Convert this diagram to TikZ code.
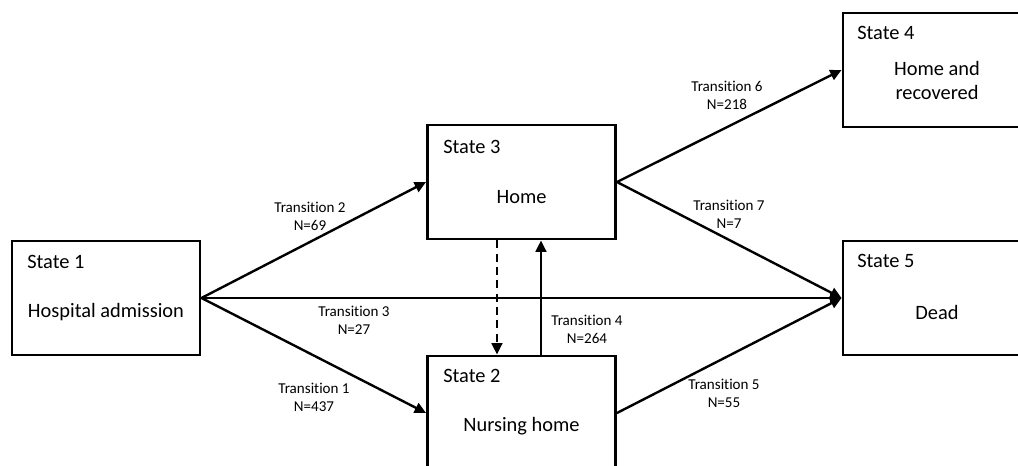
\documentclass[tikz,border=0pt]{standalone}
\usepackage{fontspec}
\setmainfont{Carlito}[Ligatures=NoCommon]
\usetikzlibrary{arrows.meta}
\tikzset{
  statebox/.style={draw=black, line width=2.2pt, fill=white, rectangle, minimum width=141pt, minimum height=85.5pt, inner sep=0pt},
  statehead/.style={anchor=west, inner sep=0pt, font=\fontsize{15.3}{18}\selectfont},
  statetext/.style={inner sep=0pt, align=center, font=\fontsize{15.3}{18.5}\selectfont},
  translabel/.style={inner sep=0pt, align=center, font=\fontsize{11.3}{13.5}\selectfont},
  conn/.style={line width=1.8pt, -{Triangle[length=8.5pt,width=8pt]}},
  dashconn/.style={conn, dash pattern=on 6pt off 4pt},
}
\begin{document}
\begin{tikzpicture}[x=0.75pt,y=-0.75pt]
\useasboundingbox (0,0) rectangle (1018,466);
\clip (0,0) rectangle (1018,466);
\fill[white] (0,0) rectangle (1018,466);

% boxes
\node[statebox] (s1) at (106,298) {};
\node[statebox] (s3) at (521.5,182) {};
\node[statebox] (s2) at (521.5,413) {};
\node[statebox] (s4) at (937,70) {};
\node[statebox] (s5) at (937,298) {};

% box texts
\node[statehead] (s1h) at (27,262) {State 1};
\node[statetext] (s1t) at (106,312) {Hospital admission};
\node[statehead] (s3h) at (443,147) {State 3};
\node[statetext] (s3t) at (521.5,197) {Home};
\node[statehead] (s2h) at (443,376) {State 2};
\node[statetext] (s2t) at (521.5,426) {Nursing home};
\node[statehead] (s4h) at (857,33) {State 4};
\node[statetext] (s4t) at (937,80.5) {Home and\\recovered};
\node[statehead] (s5h) at (857,261) {State 5};
\node[statetext] (s5t) at (937,312) {Dead};

% connectors
\coordinate (d3) at ([xshift=-18.4pt]s3.south);
\coordinate (d2) at ([xshift=-18.4pt]s2.north);
\coordinate (u2) at ([xshift=14.6pt]s2.north);
\coordinate (u3) at ([xshift=14.6pt]s3.south);
\draw[conn] (s1.east) -- (s3.west);
\draw[conn] (s1.east) -- (s2.west);
\draw[conn] (s1.east) -- (s5.west);
\draw[conn] (s3.east) -- (s4.west);
\draw[conn] (s3.east) -- (s5.west);
\draw[conn] (s2.east) -- (s5.west);
\draw[dashconn] (d3) -- (d2);
\draw[conn] (u2) -- (u3);

% transition labels
\node[translabel] (t2) at (310,216) {Transition 2\\N=69};
\node[translabel] (t3) at (354,320) {Transition 3\\N=27};
\node[translabel] (t1) at (314,397) {Transition 1\\N=437};
\node[translabel] (t4) at (587,329) {Transition 4\\N=264};
\node[translabel] (t6) at (727,95) {Transition 6\\N=218};
\node[translabel] (t7) at (729,214) {Transition 7\\N=7};
\node[translabel] (t5) at (724,393) {Transition 5\\N=55};
\end{tikzpicture}
\end{document}
